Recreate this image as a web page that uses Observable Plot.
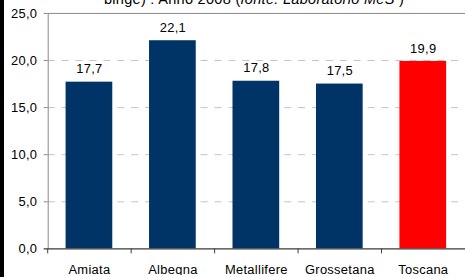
<!DOCTYPE html>
<html>
<head>
<meta charset="utf-8">
<script src="https://cdn.jsdelivr.net/npm/d3@7"></script>
<script src="https://cdn.jsdelivr.net/npm/@observablehq/plot@0.6"></script>
<style>
  html, body { margin: 0; padding: 0; background: #fff; overflow: hidden; width: 465px; height: 277px; }
  #wrap { position: relative; width: 465px; height: 277px; overflow: hidden; font-family: "Liberation Sans", Arial, sans-serif; }
  #title { position: absolute; top: -9px; left: 40px; width: 428px; text-align: center; font-size: 14.5px; line-height: 17px; color: #000; letter-spacing: 0.3px; white-space: nowrap; }
  #strip { position: absolute; left: 0; top: 0; width: 4px; height: 277px; background: #000; }
  #chart { position: absolute; left: 0; top: 0; }
</style>
</head>
<body>
<div id="wrap">
  <div id="chart"></div>
  <div id="title">binge) : Anno 2008 (<i>fonte: Laboratorio MeS</i> )</div>
  <div id="strip"></div>
</div>
<script>
const categories = ["Amiata", "Albegna", "Metallifere", "Grossetana", "Toscana"];
const values = [17.7, 22.1, 17.8, 17.5, 19.9];
const yTicks = [0, 5, 10, 15, 20, 25];
const gridTicks = [5, 10, 15, 20];
const highlight = "Toscana";

const data = categories.map((c, i) => ({category: c, value: values[i]}));
const fmt = v => v.toFixed(1).replace(".", ",");

const chart = Plot.plot({
  width: 468,
  height: 277,
  marginLeft: 48,
  marginRight: 0,
  marginTop: 13,
  marginBottom: 27,
  style: {fontFamily: "'Liberation Sans', Arial, sans-serif", fontSize: "13px", color: "#000", background: "#fff", letterSpacing: "0.3px"},
  x: {domain: categories, paddingInner: 0.44, paddingOuter: 0.22, label: null, tickSize: 0, tickPadding: 16},
  y: {domain: [0, 25], ticks: yTicks, tickFormat: fmt, label: null, tickSize: 4, tickPadding: 7},
  marks: [
    Plot.ruleY(gridTicks, {stroke: "#c4c4c4", strokeDasharray: "7,7"}),
    Plot.frame({stroke: "#888"}),
    Plot.barY(data, {x: "category", y: "value", fill: d => d.category === highlight ? "#ff0000" : "#003366"}),
    Plot.ruleY([0], {stroke: "#404040", insetLeft: -4}),
    Plot.ruleX(categories, {x: d => d, dx: -42, y1: 0, y2: 0, insetBottom: -5, stroke: "#404040"}),
    Plot.text(data, {x: "category", y: "value", text: d => fmt(d.value), dy: -13, fill: "#000", fontSize: 13})
  ]
});
chart.querySelectorAll("g[aria-label='y-axis tick'] path, g[aria-label='y-axis'] path").forEach(p => p.setAttribute("stroke", "#888"));
document.getElementById("chart").append(chart);
</script>
</body>
</html>
